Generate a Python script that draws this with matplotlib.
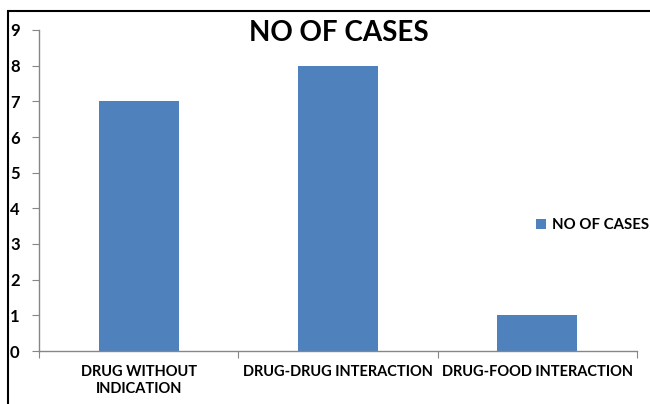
import matplotlib
matplotlib.use("Agg")
import matplotlib.pyplot as plt
from matplotlib.patches import Rectangle

categories = ["DRUG WITHOUT\nINDICATION", "DRUG-DRUG INTERACTION", "DRUG-FOOD INTERACTION"]
cases = [7, 8, 1]
yticks = list(range(0, 10))

plt.rcParams['font.family'] = ['Lato', 'DejaVu Sans']
plt.rcParams['font.weight'] = 'bold'

fig = plt.figure(figsize=(6.5, 4.04), dpi=100)
ax = fig.add_axes([39/650, 1 - 351/404, (637 - 39)/650, (351 - 30)/404])

x = list(range(len(categories)))
ax.bar(x, cases, width=0.4, color='#4f81bd', label='NO OF CASES', zorder=2)

ax.set_xlim(-0.5, 2.5)
ax.set_ylim(0, 9)
ax.set_yticks(yticks)
ax.set_xticks([-0.5, 0.5, 1.5, 2.5], minor=False)
ax.set_xticklabels([])
ax.set_xticks(x, minor=True)
ax.set_xticklabels(categories, minor=True, fontsize=10.5, fontweight='bold',
                   multialignment='center', linespacing=1.25)
ax.tick_params(axis='x', which='minor', length=0, pad=10)
ax.tick_params(axis='x', which='major', length=5, color='#868686')
ax.tick_params(axis='y', length=5, color='#868686', labelsize=12, pad=9)
for lbl in ax.get_yticklabels():
    lbl.set_fontweight('bold')

for side in ['top', 'right']:
    ax.spines[side].set_visible(False)
for side in ['left', 'bottom']:
    ax.spines[side].set_color('#868686')
    ax.spines[side].set_linewidth(1.0)

fig.text(339/650, 1 - 33/404, 'NO OF CASES', ha='center', va='center',
         fontsize=20, fontweight='bold')

ax.legend(loc='center left', bbox_to_anchor=(531/650, 1 - 225/404),
          bbox_transform=fig.transFigure, frameon=False, fontsize=10.8,
          handlelength=0.7, handleheight=0.7, handletextpad=0.4,
          borderaxespad=0, borderpad=0.3)

# outer chart border
fig.patches.append(Rectangle((8/650, -0.1), 1.1, 1 - 11/404 + 0.1,
                             transform=fig.transFigure, fill=False,
                             edgecolor='black', linewidth=1.5))

fig.savefig('out.png', dpi=100)
